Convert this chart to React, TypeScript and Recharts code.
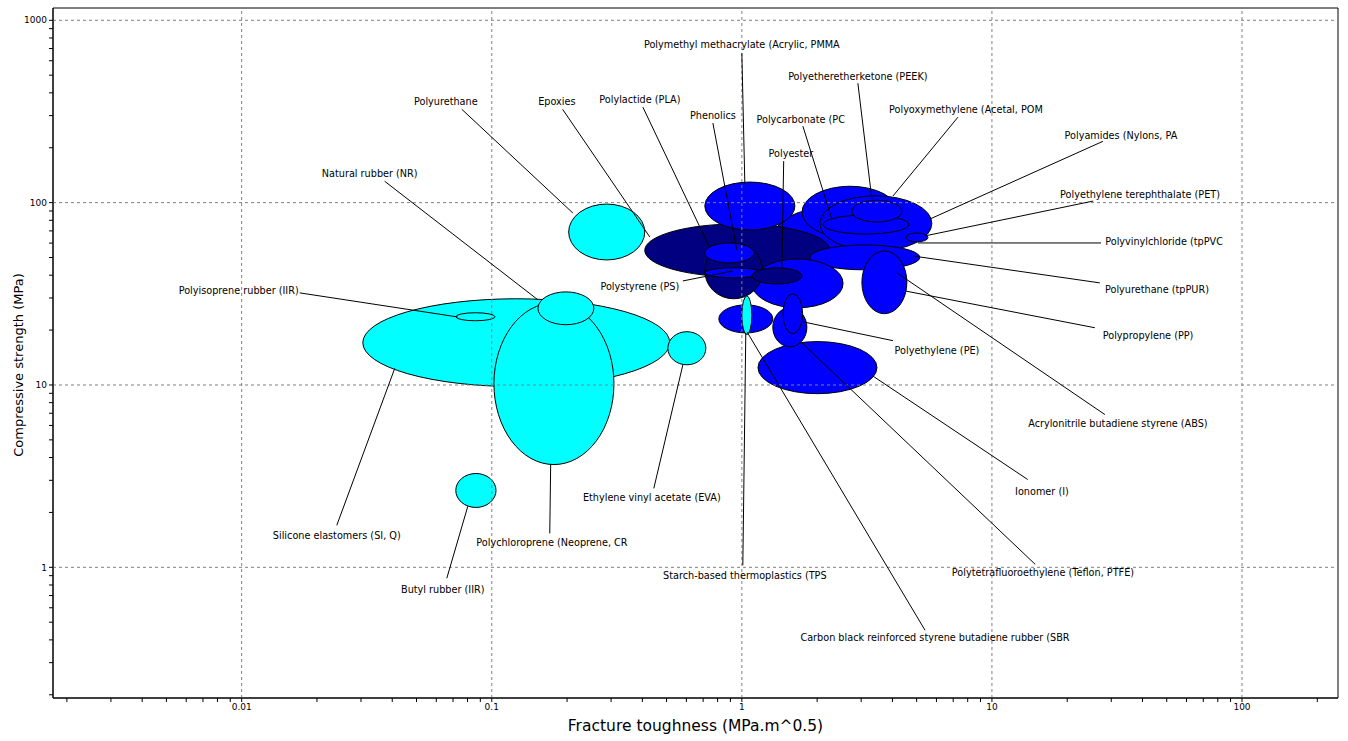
import React from 'react';
import { ScatterChart, Scatter, XAxis, YAxis, ReferenceArea, ReferenceLine } from 'recharts';

// property envelopes, drawn back to front
const MATERIALS = [
  'Silicone elastomers', 'Polychloroprene', 'Natural rubber', 'Polyisoprene rubber', 'Polyurethane',
  'Ethylene vinyl acetate', 'Butyl rubber', 'Polycarbonate', 'Epoxies', 'PMMA', 'PEEK', 'Polyamides',
  'tpPUR', 'PET', 'POM', 'tpPVC', 'ABS', 'Phenolics', 'PLA', 'Polystyrene', 'Polyester',
  'Polypropylene', 'SBR', 'TPS', 'Ionomer', 'PTFE', 'Polyethylene',
];
const FAMILY = [
  'el', 'el', 'el', 'el', 'el', 'el', 'el', 'tp', 'ts', 'tp', 'tp', 'tp',
  'tp', 'tp', 'tp', 'tp', 'tp', 'ts', 'tp', 'tp', 'ts',
  'tp', 'tp', 'el', 'tp', 'tp', 'tp',
];
const K_LO = [0.0305, 0.102, 0.153, 0.0718, 0.203, 0.506, 0.0718, 1.355, 0.409, 0.711, 1.74, 2.05, 1.87, 2.11, 2.75, 4.53, 1.096, 0.711, 0.711, 0.711, 1.096, 3.02, 0.809, 1.0, 1.16, 1.33, 1.46];
const K_HI = [0.515, 0.308, 0.256, 0.103, 0.409, 0.718, 0.104, 3.56, 2.25, 1.63, 4.21, 5.75, 5.15, 4.66, 4.37, 5.55, 2.54, 1.21, 1.117, 1.21, 1.74, 4.57, 1.33, 1.096, 3.47, 1.82, 1.75];
const S_LO = [9.8, 3.66, 21.4, 22.5, 48.5, 12.9, 2.13, 46.7, 39.2, 70.8, 64, 54.3, 42.8, 67.3, 78.3, 60.9, 26.5, 29.7, 46.7, 38.7, 35.8, 24.6, 19.3, 18.9, 8.96, 16.2, 19.1];
const S_HI = [29.7, 28.2, 32.4, 24.9, 98.2, 19.6, 3.27, 93.4, 76.4, 129.7, 123, 109, 58.6, 85.5, 103, 68.2, 49.1, 60.1, 60.1, 43.9, 43.9, 54.3, 27.5, 30.8, 17.3, 26.5, 31.6];

// labels and leader lines
const LABEL_TEXT = [
  'Polymethyl methacrylate (Acrylic, PMMA', 'Polyetheretherketone (PEEK)', 'Polyurethane', 'Epoxies',
  'Polylactide (PLA)', 'Phenolics', 'Polycarbonate (PC', 'Polyoxymethylene (Acetal, POM',
  'Polyamides (Nylons, PA', 'Polyester', 'Natural rubber (NR)', 'Polyethylene terephthalate (PET)',
  'Polyvinylchloride (tpPVC', 'Polyisoprene rubber (IIR)', 'Polystyrene (PS)', 'Polyurethane (tpPUR)',
  'Polyethylene (PE)', 'Polypropylene (PP)', 'Acrylonitrile butadiene styrene (ABS)',
  'Ethylene vinyl acetate (EVA)', 'Ionomer (I)', 'Silicone elastomers (SI, Q)',
  'Polychloroprene (Neoprene, CR', 'Starch-based thermoplastics (TPS',
  'Polytetrafluoroethylene (Teflon, PTFE)', 'Butyl rubber (IIR)',
  'Carbon black reinforced styrene butadiene rubber (SBR',
];
const LABEL_K = [1.0, 2.91, 0.0655, 0.182, 0.391, 0.766, 1.72, 7.87, 32.8, 1.57, 0.0325, 39.1, 48.8, 0.00973, 0.391, 45.7, 6.03, 42.1, 31.9, 0.4365, 15.85, 0.024, 0.174, 1.028, 16.0, 0.0637, 5.92];
const LABEL_S = [738, 493, 360, 360, 369, 302, 287, 325, 234, 187, 145, 111.4, 60.9, 32.8, 34.5, 33.2, 15.4, 18.6, 6.14, 2.42, 2.61, 1.5, 1.37, 0.904, 0.939, 0.758, 0.414];
const LEAD_K0 = [1.0, 2.91, 0.0759, 0.192, 0.402, 0.766, 1.754, 7.31, 27.8, 1.47, 0.0373, 25.4, 27.3, 0.01706, 0.581, 27.0, 4.02, 25.8, 28.3, 0.4446, 13.9, 0.024, 0.1706, 1.009, 14.9, 0.0661, 5.4];
const LEAD_S0 = [659, 452, 325, 325, 334, 273, 262.6, 294, 217, 169, 131, 102, 60.1, 32.0, 37.2, 36.3, 17.5, 20.6, 6.88, 2.71, 3.03, 1.7, 1.535, 1.026, 1.038, 0.871, 0.452];
const LEAD_K1 = [1.028, 3.31, 0.211, 0.4285, 0.738, 0.955, 2.29, 4.02, 5.65, 1.445, 0.153, 5.4, 5.06, 0.0731, 0.92, 4.83, 1.754, 4.49, 4.17, 0.581, 3.34, 0.0409, 0.172, 1.037, 1.74, 0.0802, 1.05];
const LEAD_S1 = [126, 104.6, 87.7, 64.8, 57.9, 55.0, 81.3, 108.7, 81.3, 43.3, 29.3, 65.7, 60.1, 23.6, 42.2, 51.0, 22.2, 32.8, 41.2, 12.9, 11.2, 12.3, 3.66, 19.3, 17.0, 2.16, 19.5];

const X_DOMAIN = [0.00176, 242];
const Y_DOMAIN = [0.192, 1168];
const X_MAJOR = [0.01, 0.1, 1, 10, 100];
const Y_MAJOR = [1, 10, 100, 1000];
const X_DECADES = [-3, -2, -1, 0, 1, 2];
const Y_DECADES = [-1, 0, 1, 2, 3];

const COLORS: Record<string, string> = { el: '#00ffff', tp: '#0000ff', ts: '#000080' };

const logTicks = (decades: number[], domain: number[]) => {
  const out: number[] = [];
  decades.forEach((d) => {
    for (let m = 1; m <= 9; m++) {
      const v = Number((m * Math.pow(10, d)).toPrecision(6));
      if (v >= domain[0] && v <= domain[1]) out.push(v);
    }
  });
  return out;
};

const isMajor = (v: number) => Math.abs(Math.log10(v) - Math.round(Math.log10(v))) < 1e-6;

const FONT = 'DejaVu Sans, sans-serif';

const Ellipse = (props: any) => {
  const { x, y, width, height, fill } = props;
  return (
    <ellipse
      cx={x + width / 2}
      cy={y + height / 2}
      rx={Math.abs(width) / 2}
      ry={Math.abs(height) / 2}
      fill={fill}
      stroke="#000"
      strokeWidth={1}
    />
  );
};

const LabelText = (props: any) => {
  const { cx, cy, payload } = props;
  return (
    <text x={cx} y={cy} textAnchor="middle" dominantBaseline="central" fontSize={9.7} fontFamily={FONT} fill="#000">
      {payload.name}
    </text>
  );
};

const YTitle = (props: any) => {
  const { viewBox } = props;
  const cx = 18;
  const cy = viewBox.y + viewBox.height / 2 + 12;
  return (
    <text x={cx} y={cy} transform={`rotate(-90, ${cx}, ${cy})`} textAnchor="middle" dominantBaseline="central" fontSize={13} fontFamily={FONT} fill="#000">
      Compressive strength (MPa)
    </text>
  );
};

export default function App() {
  const labelData = LABEL_TEXT.map((name, i) => ({ x: LABEL_K[i], y: LABEL_S[i], name }));
  return (
    <div style={{ position: 'absolute', left: 0, top: 0, background: '#fff' }}>
      <ScatterChart width={1348} height={741} margin={{ top: 8, right: 10, bottom: 0, left: 0 }}>
        <XAxis
          dataKey="x"
          type="number"
          scale="log"
          domain={X_DOMAIN}
          allowDataOverflow
          ticks={logTicks(X_DECADES, X_DOMAIN)}
          interval={0}
          tickFormatter={(v: number) => (isMajor(v) ? String(v) : '')}
          tick={{ fontSize: 9, fontFamily: FONT, fill: '#000' }}
          tickSize={4}
          stroke="#000"
          height={43}
          label={{ value: 'Fracture toughness (MPa.m^0.5)', position: 'insideBottom', offset: 10, fontSize: 15.5, fontFamily: FONT, fill: '#000' }}
        />
        <YAxis
          dataKey="y"
          type="number"
          scale="log"
          domain={Y_DOMAIN}
          allowDataOverflow
          ticks={logTicks(Y_DECADES, Y_DOMAIN)}
          interval={0}
          tickFormatter={(v: number) => (isMajor(v) ? String(v) : '')}
          tick={{ fontSize: 9, fontFamily: FONT, fill: '#000' }}
          tickSize={4}
          stroke="#000"
          width={53}
          label={<YTitle />}
        />
        {X_MAJOR.map((v) => (
          <ReferenceLine key={`gx${v}`} x={v} stroke="#808080" strokeDasharray="3 3" />
        ))}
        {Y_MAJOR.map((v) => (
          <ReferenceLine key={`gy${v}`} y={v} stroke="#808080" strokeDasharray="3 3" />
        ))}
        {MATERIALS.map((m, i) => (
          <ReferenceArea
            key={m}
            x1={K_LO[i]}
            x2={K_HI[i]}
            y1={S_LO[i]}
            y2={S_HI[i]}
            fill={COLORS[FAMILY[i]]}
            fillOpacity={1}
            shape={<Ellipse fill={COLORS[FAMILY[i]]} />}
          />
        ))}
        {LABEL_TEXT.map((t, i) => (
          <ReferenceLine
            key={`ld${i}`}
            segment={[{ x: LEAD_K0[i], y: LEAD_S0[i] }, { x: LEAD_K1[i], y: LEAD_S1[i] }]}
            stroke="#000"
            strokeWidth={1}
          />
        ))}
        <ReferenceArea x1={X_DOMAIN[0]} x2={X_DOMAIN[1]} y1={Y_DOMAIN[0]} y2={Y_DOMAIN[1]} fill="none" stroke="#000" strokeWidth={1} />
        <Scatter data={labelData} shape={<LabelText />} isAnimationActive={false} />
      </ScatterChart>
    </div>
  );
}
